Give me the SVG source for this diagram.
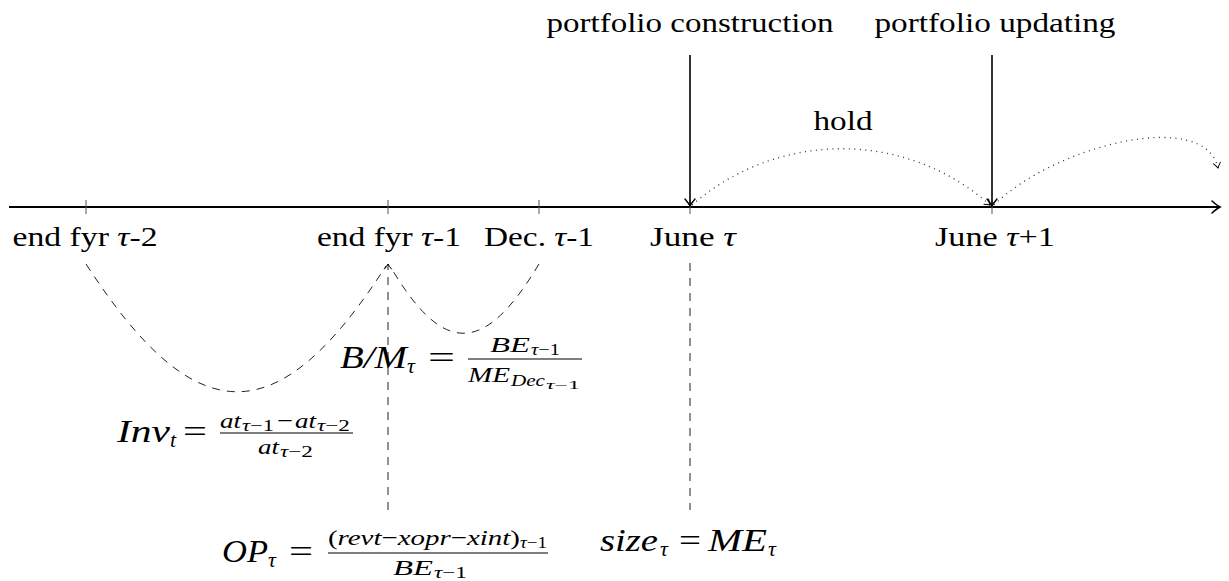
<svg xmlns="http://www.w3.org/2000/svg" width="1229" height="581" viewBox="0 0 1229 581">
<style>
.lbl{font-family:"Liberation Serif","Times New Roman",serif;font-size:28px;fill:#000;text-anchor:middle}
.m{font-family:"Liberation Serif","Times New Roman",serif;font-style:italic;fill:#000}
.up{font-style:normal}
.m1{font-size:32px}.m2{font-size:22px}.m3{font-size:16px}.m4{font-size:12px}
.axis{stroke:#000;stroke-width:2.2;fill:none}
.tick{stroke:#555;stroke-width:1}
.arr{stroke:#000;stroke-width:1.6;fill:none}
.dash{stroke:#222;stroke-width:1;stroke-dasharray:8 7;fill:none}
.dot{stroke:#333;stroke-width:1.3;stroke-dasharray:1 4.5;fill:none}
.bar{stroke:#000;stroke-width:1.1}
.head{fill:none;stroke:#000;stroke-linecap:round}
</style>
<defs>
<marker id="ahAxis" viewBox="-10 -8 12 16" refX="0" refY="0" markerWidth="12" markerHeight="16" markerUnits="userSpaceOnUse" orient="auto">
<path class="head" d="M-8,-6 Q-3,-1.5 0,0 Q-3,1.5 -8,6" stroke-width="1.6"/>
</marker>
<marker id="ah" viewBox="-9 -7 11 14" refX="0" refY="0" markerWidth="11" markerHeight="14" markerUnits="userSpaceOnUse" orient="auto">
<path class="head" d="M-7,-5 Q-2.5,-1.2 0,0 Q-2.5,1.2 -7,5" stroke-width="1.4"/>
</marker>
<marker id="ahs" viewBox="-7 -5 9 10" refX="0" refY="0" markerWidth="9" markerHeight="10" markerUnits="userSpaceOnUse" orient="auto">
<path class="head" d="M-5,-3.5 Q-2,-1 0,0 Q-2,1 -5,3.5" stroke-width="1"/>
</marker>
</defs>

<g id="connectors">
<line class="axis" x1="9" y1="207" x2="1220" y2="207" marker-end="url(#ahAxis)"/>
<line class="tick" x1="86" y1="200" x2="86" y2="214"/>
<line class="tick" x1="388" y1="200" x2="388" y2="214"/>
<line class="tick" x1="539" y1="200" x2="539" y2="214"/>
<line class="tick" x1="690" y1="200" x2="690" y2="214"/>
<line class="tick" x1="992" y1="200" x2="992" y2="214"/>
<line class="arr" x1="690" y1="55" x2="690" y2="206" marker-end="url(#ah)"/>
<line class="arr" x1="992" y1="55" x2="992" y2="206" marker-end="url(#ah)"/>
<path class="dot" d="M692,205 C778,130 906,130 990,205" marker-end="url(#ahs)"/>
<path class="dot" d="M994,205 C1055,145 1205,108 1218,168" marker-end="url(#ahs)"/>
<path class="dash" d="M86,264 C196,434 278,434 386,266"/>
<path class="dash" d="M539,264 C484,356 443,356 390,266"/>
<line class="dash" x1="388" y1="510" x2="388" y2="264" marker-end="url(#ahs)"/>
<line class="dash" x1="690" y1="263" x2="690" y2="510"/>
</g>

<g id="label-construction"><text class="lbl" x="690" y="32" textLength="287" lengthAdjust="spacingAndGlyphs">portfolio construction</text></g>
<g id="label-updating"><text class="lbl" x="995" y="32" textLength="241" lengthAdjust="spacingAndGlyphs">portfolio updating</text></g>
<g id="label-hold"><text class="lbl" x="843" y="130" textLength="59" lengthAdjust="spacingAndGlyphs">hold</text></g>

<g id="node-endfyr2"><text class="lbl" x="85" y="246" textLength="145" lengthAdjust="spacingAndGlyphs">end fyr <tspan font-style="italic">τ</tspan>-2</text></g>
<g id="node-endfyr1"><text class="lbl" x="389" y="246" textLength="144" lengthAdjust="spacingAndGlyphs">end fyr <tspan font-style="italic">τ</tspan>-1</text></g>
<g id="node-dec"><text class="lbl" x="539" y="246" textLength="110" lengthAdjust="spacingAndGlyphs">Dec. <tspan font-style="italic">τ</tspan>-1</text></g>
<g id="node-june"><text class="lbl" x="693" y="246" textLength="86" lengthAdjust="spacingAndGlyphs">June <tspan font-style="italic">τ</tspan></text></g>
<g id="node-june1"><text class="lbl" x="995" y="246" textLength="120" lengthAdjust="spacingAndGlyphs">June <tspan font-style="italic">τ</tspan>+1</text></g>

<g id="formula-bm">
<text class="m m1" x="340" y="368" textLength="67" lengthAdjust="spacingAndGlyphs">B/M</text>
<text class="m m2" x="407" y="373">τ</text>
<text class="m m1 up" x="428" y="368" textLength="27" lengthAdjust="spacingAndGlyphs">=</text>
<line class="bar" x1="468" y1="359" x2="582" y2="359"/>
<text class="m m2" x="490" y="352" textLength="40" lengthAdjust="spacingAndGlyphs">BE</text>
<text class="m m3" x="531" y="355" textLength="29" lengthAdjust="spacingAndGlyphs">τ<tspan class="up">−1</tspan></text>
<text class="m m2" x="468" y="382" textLength="42" lengthAdjust="spacingAndGlyphs">ME</text>
<text class="m m3" x="511" y="386" textLength="34" lengthAdjust="spacingAndGlyphs">Dec</text>
<text class="m m4" x="546" y="389" textLength="34" lengthAdjust="spacingAndGlyphs">τ<tspan class="up">−1</tspan></text>
</g>

<g id="formula-inv">
<text class="m m1" x="117" y="442" textLength="53" lengthAdjust="spacingAndGlyphs">Inv</text>
<text class="m m2" x="170" y="447">t</text>
<text class="m m1 up" x="183" y="442" textLength="24" lengthAdjust="spacingAndGlyphs">=</text>
<text class="m m2" x="220" y="428" textLength="21" lengthAdjust="spacingAndGlyphs">at</text>
<text class="m m3" x="242" y="431" textLength="32" lengthAdjust="spacingAndGlyphs">τ<tspan class="up">−1</tspan></text>
<text class="m m2 up" x="277" y="428" textLength="16" lengthAdjust="spacingAndGlyphs">−</text>
<text class="m m2" x="295" y="428" textLength="21" lengthAdjust="spacingAndGlyphs">at</text>
<text class="m m3" x="317" y="431" textLength="33" lengthAdjust="spacingAndGlyphs">τ<tspan class="up">−2</tspan></text>
<line class="bar" x1="220" y1="433" x2="353" y2="433"/>
<text class="m m2" x="258" y="454" textLength="21" lengthAdjust="spacingAndGlyphs">at</text>
<text class="m m3" x="280" y="457" textLength="33" lengthAdjust="spacingAndGlyphs">τ<tspan class="up">−2</tspan></text>
</g>

<g id="formula-op">
<text class="m m1" x="222" y="562" textLength="46" lengthAdjust="spacingAndGlyphs">OP</text>
<text class="m m2" x="268" y="567">τ</text>
<text class="m m1 up" x="289" y="562" textLength="24" lengthAdjust="spacingAndGlyphs">=</text>
<text class="m m2" x="328" y="545" textLength="192" lengthAdjust="spacingAndGlyphs"><tspan class="up">(</tspan>revt<tspan class="up">−</tspan>xopr<tspan class="up">−</tspan>xint<tspan class="up">)</tspan></text>
<text class="m m3" x="520" y="548" textLength="27" lengthAdjust="spacingAndGlyphs">τ<tspan class="up">−1</tspan></text>
<line class="bar" x1="328" y1="553" x2="548" y2="553"/>
<text class="m m2" x="393" y="575" textLength="40" lengthAdjust="spacingAndGlyphs">BE</text>
<text class="m m3" x="434" y="578" textLength="33" lengthAdjust="spacingAndGlyphs">τ<tspan class="up">−1</tspan></text>
</g>

<g id="formula-size">
<text class="m m1" x="600" y="551" textLength="58" lengthAdjust="spacingAndGlyphs">size</text>
<text class="m m2" x="660" y="556">τ</text>
<text class="m m1 up" x="679" y="551" textLength="22" lengthAdjust="spacingAndGlyphs">=</text>
<text class="m m1" x="708" y="551" textLength="59" lengthAdjust="spacingAndGlyphs">ME</text>
<text class="m m2" x="768" y="556">τ</text>
</g>
</svg>
